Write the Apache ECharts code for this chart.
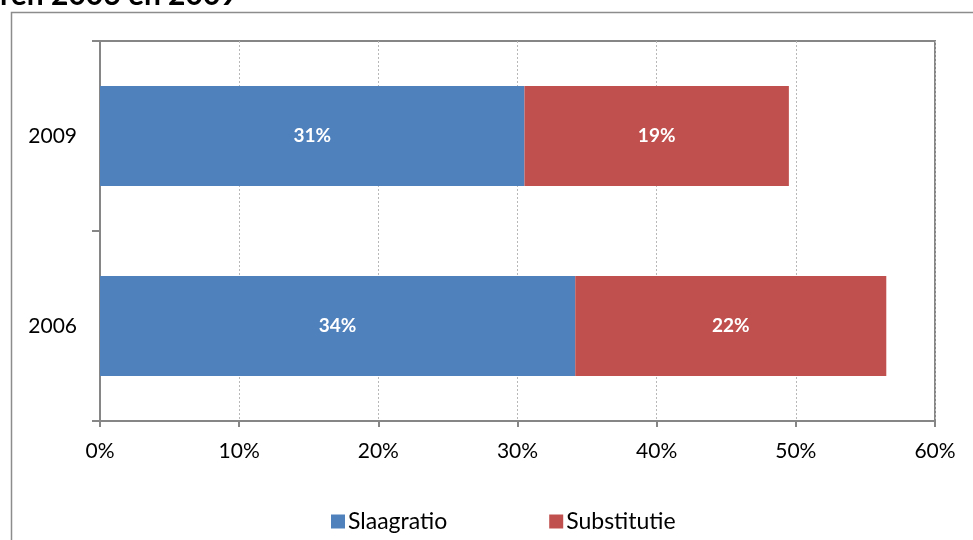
<!DOCTYPE html>
<html>
<head>
<meta charset="utf-8">
<script src="https://cdn.jsdelivr.net/npm/echarts@6/dist/echarts.min.js"></script>
<style>
  html, body { margin: 0; padding: 0; background: #ffffff; }
  #chart { width: 973px; height: 540px; }
</style>
</head>
<body>
<div id="chart"></div>
<script>
// gegevens
const jaren = ['2006', '2009']
const slaagratio = [34.15, 30.5]
const substitutie = [22.35, 19.0]
const xTicks = [0, 10, 20, 30, 40, 50, 60]

const fontFam = 'Lato, "Open Sans", sans-serif'
const myChart = echarts.init(document.getElementById('chart'))

const labelStyle = {
  show: true,
  position: 'inside',
  color: '#ffffff',
  fontWeight: 'bold',
  fontSize: 19,
  fontFamily: fontFam,
  formatter: (p) => Math.round(p.value) + '%'
}

myChart.setOption({
  animation: false,
  backgroundColor: '#ffffff',
  graphic: [
    {
      // titel, bovenaan afgesneden
      type: 'text',
      left: 0,
      top: -20,
      style: {
        text: 'ren 2006 en 2009',
        font: 'bold 30px ' + fontFam,
        fill: '#000000'
      }
    },
    {
      // kader om de grafiek
      type: 'rect',
      shape: { x: 11.5, y: 12.5, width: 1200, height: 800 },
      style: { fill: 'none', stroke: '#8c8c8c', lineWidth: 1.5 }
    }
  ],
  legend: {
    data: ['Slaagratio', 'Substitutie'],
    top: 505,
    left: 326,
    itemWidth: 14,
    itemHeight: 14,
    itemGap: 102,
    icon: 'rect',
    textStyle: { fontSize: 23, fontFamily: fontFam, color: '#000000', padding: [0, 0, 0, -2] }
  },
  grid: {
    left: 100,
    right: 38,
    top: 41,
    bottom: 119,
    show: true,
    borderColor: '#868686',
    borderWidth: 2
  },
  xAxis: {
    type: 'value',
    min: xTicks[0],
    max: xTicks[xTicks.length - 1],
    interval: 10,
    axisLine: { show: true, lineStyle: { color: '#868686', width: 2 } },
    axisTick: { show: true, length: 6, lineStyle: { color: '#868686', width: 2 } },
    axisLabel: {
      margin: 20,
      fontSize: 21,
      fontFamily: fontFam,
      color: '#000000',
      formatter: (v) => v + '%'
    },
    splitLine: { show: true, lineStyle: { color: '#b8b8b8', type: [2, 2], width: 1 } }
  },
  yAxis: {
    type: 'category',
    data: jaren,
    axisLine: { show: true, lineStyle: { color: '#868686', width: 2 } },
    axisTick: { show: true, length: 8, lineStyle: { color: '#868686', width: 2 } },
    axisLabel: { margin: 23, fontSize: 21, fontFamily: fontFam, color: '#000000' }
  },
  series: [
    {
      name: 'Slaagratio',
      type: 'bar',
      stack: 'totaal',
      barWidth: 100,
      itemStyle: { color: '#4f81bd' },
      label: labelStyle,
      data: slaagratio
    },
    {
      name: 'Substitutie',
      type: 'bar',
      stack: 'totaal',
      barWidth: 100,
      itemStyle: { color: '#c0504d' },
      label: labelStyle,
      data: substitutie
    }
  ]
})
</script>
</body>
</html>
